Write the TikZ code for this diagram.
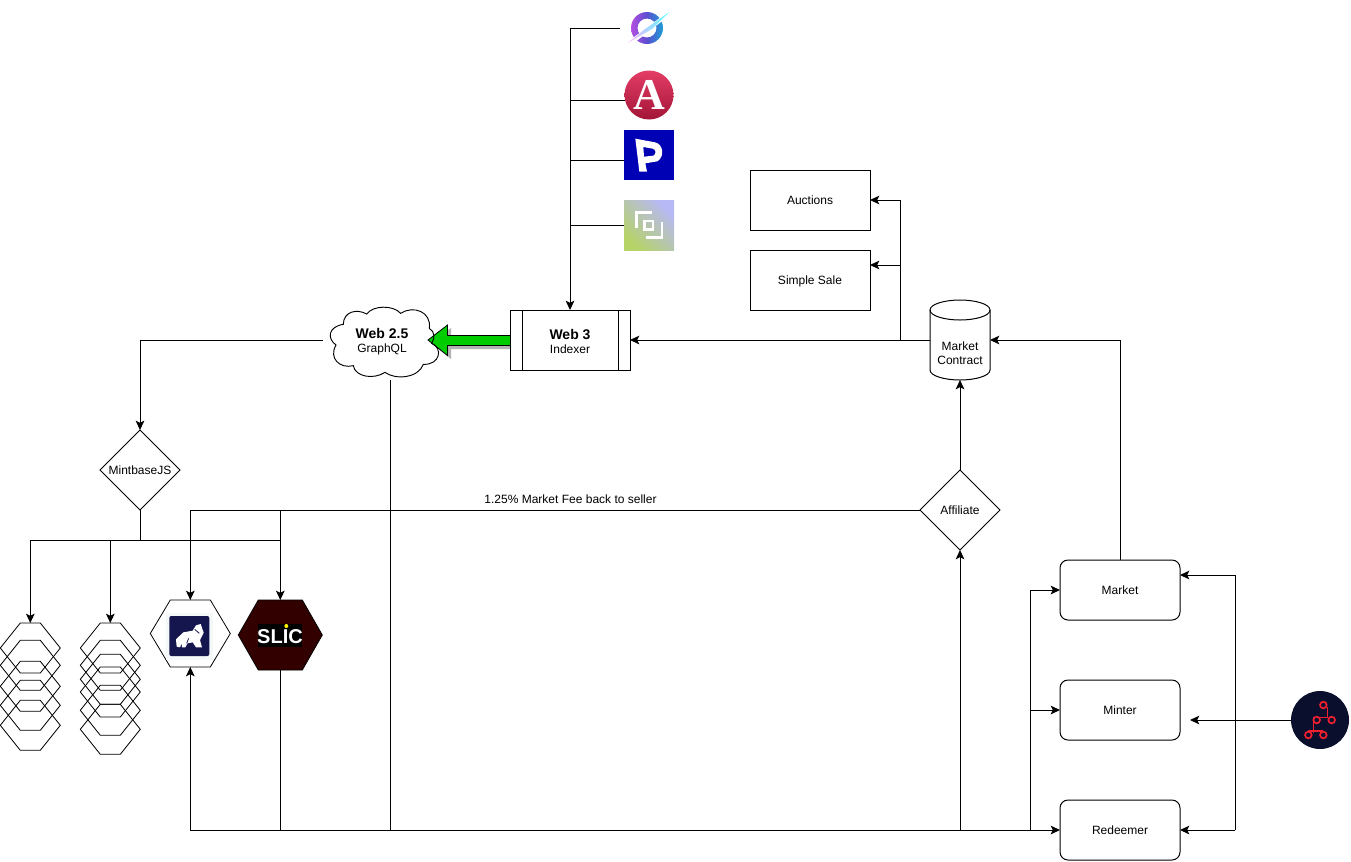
\documentclass[tikz,border=0pt]{standalone}
\usepackage{fontspec}
\setmainfont{Liberation Sans}
\newfontfamily\serifbold{Liberation Serif}
\usetikzlibrary{arrows.meta,shapes.geometric,calc}
\definecolor{navyring}{HTML}{0A0F2E}
\definecolor{ringred}{HTML}{F0202F}
\definecolor{gorbg}{HTML}{16164F}
\definecolor{gorpale}{HTML}{F4F8F9}
\definecolor{slicbg}{HTML}{330000}
\definecolor{pblue}{HTML}{0000B4}
\definecolor{arrowgreen}{HTML}{00CC00}
\definecolor{atop}{HTML}{E43D66}
\definecolor{amid}{HTML}{DC385F}
\definecolor{abot}{HTML}{A31537}
\definecolor{bleft}{HTML}{B6D368}
\definecolor{bmid}{HTML}{7CD0CF}
\definecolor{bright}{HTML}{B7B8F6}
\definecolor{orbleft}{HTML}{B44FE0}
\definecolor{orbright}{HTML}{1F9FD6}
\definecolor{orbmid}{HTML}{5A4FD0}
\tikzset{
  wire/.style={draw=black,line width=0.75pt},
  arr/.style={wire,-{Stealth[length=7pt,width=6.5pt,inset=1.6pt]}},
  boxnode/.style={draw=black,line width=0.75pt,minimum width=90pt,minimum height=#1,inner sep=0pt,outer sep=0pt,font=\fontsize{9}{10.5}\selectfont,align=center,text height=8pt,text depth=1.9pt},
  boxnode/.default=45pt,
  roundnode/.style={boxnode,rounded corners=6pt},
  diamondnode/.style={draw=black,line width=0.75pt,diamond,aspect=1,minimum width=60pt,minimum height=60pt,inner sep=0pt,outer sep=0pt,font=\fontsize{9}{10.5}\selectfont},
  lbl/.style={font=\fontsize{9}{10.5}\selectfont,inner sep=0pt,align=center},
  hexline/.style={draw=black,line width=0.6pt}
}
% name, cx, top, w, h, inset, style
\newcommand{\hexnode}[7]{%
  \node[inner sep=0pt,outer sep=0pt,minimum width=#4*0.75pt,minimum height=#5*0.75pt] (#1) at (#2,#3+#5/2) {};
  \path[#7] (#2-#4/2+#6,#3) -- (#2+#4/2-#6,#3) -- (#2+#4/2,#3+#5/2) -- (#2+#4/2-#6,#3+#5) -- (#2-#4/2+#6,#3+#5) -- (#2-#4/2,#3+#5/2) -- cycle;
}
\begin{document}
\begin{tikzpicture}[x=0.75pt,y=-0.75pt]
\useasboundingbox (0,0) rectangle (1351,861);
% ---------- boxes
\node[boxnode=45pt] (auctions) at (810,200) {Auctions};
\node[boxnode=45pt] (simple) at (810,280) {Simple Sale};
% ---------- green arrow (under the indexer box)
\coordinate (w3w) at (510,340);
\fill[black!30] ($(w3w)+(0,-1.5)$) -- ++(-59,0) -- ++(0,-10.5) -- ++(-20,15) -- ++(20,16) -- ++(0,-10) -- ++(59,0) -- cycle;
\draw[black,line width=0.6pt,fill=arrowgreen] ($(w3w)+(0,-4.5)$) -- ++(-62.5,0) -- ++(0,-10.5) -- ++(-19.5,15) -- ++(19.5,15.5) -- ++(0,-10) -- ++(62.5,0);
\node[boxnode=45pt] (web3) at (570,340) {};
\draw[wire] (522,310) -- (522,370) (618,310) -- (618,370);
\node[lbl] (web3t) at (570,341) {{\fontsize{10.5}{13}\selectfont\bfseries Web 3}\\Indexer};
\node[roundnode=45pt] (market) at (1120,590) {Market};
\node[roundnode=45pt] (minter) at (1120,710) {Minter};
\node[roundnode=45pt] (redeemer) at (1120,830) {Redeemer};
\node[diamondnode] (mintjs) at (140,470) {MintbaseJS};
\node[diamondnode] (affiliate) at (960,510) {Affiliate};
% ---------- cylinder
\node[inner sep=0pt,outer sep=0pt,minimum width=45pt,minimum height=60pt] (contract) at (960,340) {};
\draw[wire,fill=white] (930,310) .. controls (930,304) and (945,300) .. (960,300) .. controls (975,300) and (990,304) .. (990,310) -- (990,370) .. controls (990,376) and (975,380) .. (960,380) .. controls (945,380) and (930,376) .. (930,370) -- cycle;
\draw[wire] (930,310) .. controls (930,316) and (945,320) .. (960,320) .. controls (975,320) and (990,316) .. (990,310);
\node[lbl] (contractt) at (960,353) {Market\\Contract};
% ---------- cloud
\begin{scope}[shift={(310,295)},x=0.25pt,y=-0.25pt]
\draw[wire,line width=0.7pt] (78,150) .. controls (50,130) and (55,95) .. (100,88)
 .. controls (100,50) and (140,40) .. (170,57)
 .. controls (190,30) and (250,30) .. (272,55)
 .. controls (310,30) and (365,50) .. (358,100)
 .. controls (375,110) and (375,130) .. (365,145)
 .. controls (400,160) and (390,210) .. (340,208)
 .. controls (325,250) and (255,255) .. (225,232)
 .. controls (190,255) and (135,245) .. (130,212)
 .. controls (90,222) and (55,190) .. (78,150) -- cycle;
\end{scope}
\node[lbl] (cloud) at (382,341.5) {{\fontsize{10.5}{13}\selectfont\bfseries Web 2.5}\\GraphQL};
\coordinate (cloudL) at (323,340);
\coordinate (cloudB) at (390,380);
% ---------- hex stacks
\foreach \t/\n in {623/a,640.3/b,661.3/c,680.3/d,700.3/e}{\hexnode{ha\n}{30.3}{\t}{60}{50}{20}{hexline}}
\foreach \t/\n in {623/a,640.3/b,654.3/c,667/d,685.3/e,704.3/f}{\hexnode{hb\n}{110.3}{\t}{60}{50}{20}{hexline}}
% ---------- gorilla
\hexnode{gor}{190.3}{600}{80}{67}{20}{hexline,fill=white}
\fill[gorpale] (166,613) rectangle (213,660);
\fill[gorbg,rounded corners=1.5pt] (169.3,616) rectangle (209.3,656);
\begin{scope}[shift={(0,590)},x=0.25pt,y=-0.25pt]
\fill[white] (530,170) -- (528,148) -- (550,127) -- (578,122) -- (588,106) -- (602,102) -- (611,128) -- (600,150) -- (606,172) -- (588,172) -- (578,157) -- (562,160) -- (556,172) -- (546,172) -- (545,160) -- (540,172) -- cycle;
\draw[gorbg,line width=0.6pt] (584,118) -- (598,130) (560,160) -- (566,145);
\end{scope}
% ---------- slic
\hexnode{slic}{280.3}{600}{84}{70}{20}{hexline,fill=slicbg}
\fill[black] (257.7,624) rectangle (302.3,646.7);
\node[lbl,text=white,font=\fontsize{15}{15}\selectfont\bfseries] (slict) at (280,637) {SLIC};
\fill[yellow] (286.3,626) circle (2);
% ---------- logos on top
\coordinate (orb) at (647,28);
\shade[left color=orbleft,right color=orbright,middle color=orbmid,even odd rule] (orb) circle (16) (orb) circle (9.5);
\fill[white] (626,43) -- (669,11) -- (670,15) -- (632,44.5) -- cycle;
\shade[left color=magenta!30,middle color=orbmid,right color=cyan!70] (627.7,43) -- (645,29) -- (669,12.3) -- (652,29) -- cycle;
\coordinate (orbL) at (620,28);
%
\node[circle,inner sep=0pt,minimum size=36.75pt,outer sep=0pt,top color=atop,middle color=amid,bottom color=abot] (logoa) at (649,95) {};
\node[text=white,inner sep=0pt,font=\serifbold\bfseries\fontsize{33}{33}\selectfont] (logoat) at (649,95) {A};
%
\node[fill=pblue,minimum size=37.5pt,inner sep=0pt,outer sep=0pt] (logop) at (649,155) {};
\begin{scope}[shift={(560,0)},x=0.25pt,y=-0.25pt]
\fill[white,even odd rule] (226,416) -- (285,427) .. controls (310,432) and (315,470) .. (292,484) -- (256,490) -- (261,515) -- (238,515) -- cycle
 (250,441) -- (252,470) -- (280,467) .. controls (290,462) and (288,448) .. (278,446) -- cycle;
\end{scope}
%
\node[minimum size=37.5pt,inner sep=0pt,outer sep=0pt,left color=bright,middle color=bmid,right color=bleft,shading angle=-45] (logob) at (649,225) {};
\begin{scope}[shift={(560,0)},x=0.25pt,y=-0.25pt]
\draw[white,line width=2pt] (229,684) -- (229,637) -- (276,637) (306,666) -- (306,712) -- (258,712);
\draw[white,line width=2pt] (253,663) rectangle (279,689);
\end{scope}
% ---------- ring logo
\node[circle,fill=navyring,minimum size=43.5pt,inner sep=0pt,outer sep=0pt] (ring) at (1320,720) {};
\begin{scope}[shift={(1270,680)},x=0.25pt,y=-0.25pt]
\draw[ringred,line width=1.25pt] (172,80) -- (172,112) -- (130,112) -- (130,158) (115,152) -- (160,152);
\foreach \p in {(160,75),(140,120),(185,120),(115,165),(160,165)}{\draw[ringred,line width=1.25pt,fill=navyring] \p circle (10);}
\end{scope}
% ---------- connectors
\coordinate (topR) at (570,28);
\draw[wire] (orbL) -- (topR);
\draw[arr] (topR) -- (web3.north);
\draw[wire] (570,100) -- (logoa.west |- 570,100);
\draw[wire] (570,160) -- (logop.west |- 570,160);
\draw[wire] (570,225) -- (logob.west);
\draw[arr] (contract.west) -- (web3.east);
\coordinate (split) at (900,340);
\draw[arr] (split) |- (auctions.east);
\draw[arr] (split) |- (simple.east |- 0,265);
\draw[arr] (market.north) |- (contract.east);
\draw[arr] (affiliate.north) -- (contract.south);
\draw[arr] (cloudL) -| (mintjs.north);
\coordinate (jm) at (140,540);
\draw[wire] (mintjs.south) -- (jm);
\draw[arr] (jm) -| (haa.north);
\draw[arr] (110.3,540) -- (hba.north);
\draw[wire] (jm) -- (280.3,540);
\draw[arr] (affiliate.west) -| (gor.north);
\draw[arr] (280.3,510) -- (slic.north);
\draw[arr] (cloudB) |- (redeemer.west);
\draw[arr] (390,830) -| (gor.south);
\draw[wire] (slic.south) -- (280.3,830);
\draw[arr] (960,830) -- (affiliate.south);
\draw[wire] (1030,830) -- (1030,590);
\draw[arr] (1030,590) -- (market.west);
\draw[arr] (1030,710) -- (minter.west);
\draw[arr] (ring.west) -- (1190,720);
\draw[arr] (1235,830) |- (market.east |- 0,575);
\draw[arr] (1235,830) -- (redeemer.east);
% ---------- edge label
\node[lbl] (fee) at (570.5,499.5) {1.25\% Market Fee back to seller};
\end{tikzpicture}
\end{document}
